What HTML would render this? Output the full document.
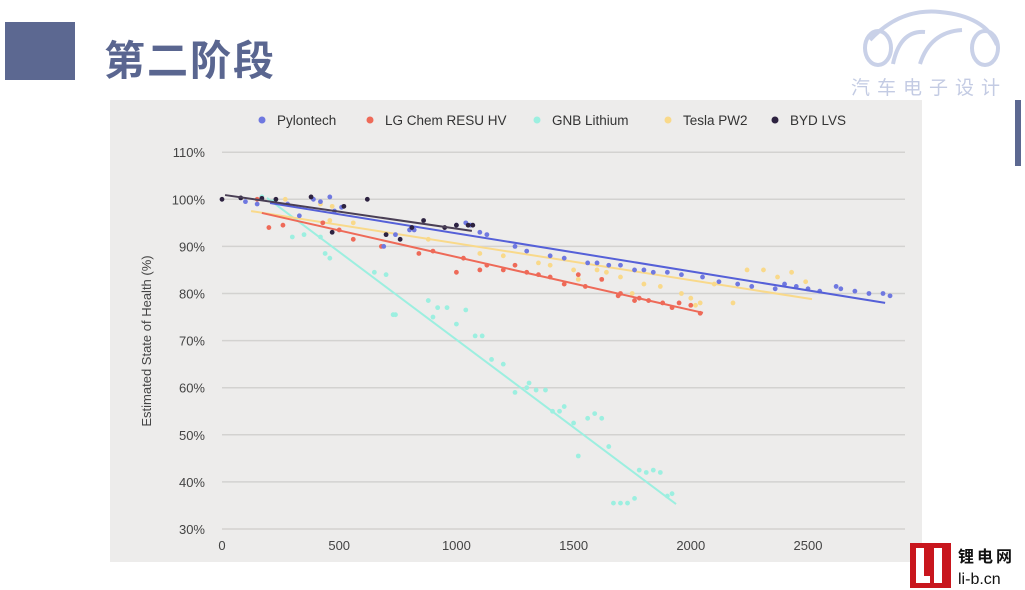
<!DOCTYPE html>
<html><head><meta charset="utf-8"><style>
html,body{margin:0;padding:0;background:#fff;width:1025px;height:590px;overflow:hidden;font-family:"Liberation Sans","Noto Sans CJK SC",sans-serif}
svg text{font-family:"Liberation Sans","Noto Sans CJK SC",sans-serif}
</style></head><body>
<svg id="root" width="1025" height="590" xmlns="http://www.w3.org/2000/svg">
<rect x="5" y="22" width="70" height="58" fill="#5c6891"/>
<text x="104" y="75" font-size="41" font-weight="bold" fill="#5a6690" letter-spacing="2">第二阶段</text>
<g fill="none" stroke="#c9d1e8" stroke-width="4">
<path d="M870 40 Q900 8 940 12 Q985 16 997 45"/>
<ellipse cx="878" cy="48" rx="13" ry="17"/>
<ellipse cx="985" cy="48" rx="13" ry="17"/>
<path d="M893 64 Q900 30 925 32 M920 64 Q930 32 962 30"/>
</g>
<text x="851" y="94" font-size="19" fill="#c3cbe3" letter-spacing="7">汽车电子设计</text>
<rect x="1015" y="100" width="6" height="66" fill="#5c6891"/>
<rect x="110" y="100" width="812" height="462" fill="#edeceb"/>
<g id="grid"></g>
<g id="yticks"></g>
<g id="xticks"></g>
<text transform="translate(151,341) rotate(-90)" text-anchor="middle" font-size="13" fill="#444">Estimated State of Health (%)</text>
<g id="legend"></g>
<g id="series"></g>
<g>
<rect x="910" y="543" width="41" height="45" fill="#c8161d"/>
<rect x="916" y="548" width="8" height="35" fill="#fff"/><rect x="916" y="576" width="14" height="7" fill="#fff"/>
<rect x="934" y="548" width="8" height="35" fill="#fff"/>
<text x="958" y="562" font-size="16" font-weight="bold" fill="#111" letter-spacing="3">锂电网</text>
<text x="958" y="584" font-size="16" fill="#111">li-b.cn</text>
</g>
</svg>
<script>
const yTicks=[30,40,50,60,70,80,90,100,110];
const xTicks=[0,500,1000,1500,2000,2500];
const seriesNames=["Pylontech","LG Chem RESU HV","GNB Lithium","Tesla PW2","BYD LVS"];
const seriesColors=["#6f78e0","#ee6a58","#9cefe0","#f9d98a","#2d2240"];
const pylonX=[100,150,280,330,390,420,460,480,510,690,740,800,820,1000,1040,1060,1100,1130,1250,1300,1400,1460,1560,1600,1650,1700,1760,1800,1840,1900,1960,2050,2120,2200,2260,2360,2400,2450,2500,2550,2620,2640,2700,2760,2820,2850];
const pylonY=[99.5,99,99,96.5,100,99.5,100.5,97.5,98.3,90,92.5,93.5,93.5,94.5,95,94.5,93,92.5,90,89,88,87.5,86.5,86.5,86,86,85,85,84.5,84.5,84,83.5,82.5,82,81.5,81,82,81.5,81,80.5,81.5,81,80.5,80,80,79.5];
const lgX=[150,200,260,430,500,560,680,840,900,1000,1030,1100,1130,1200,1250,1300,1350,1400,1460,1520,1550,1620,1690,1700,1760,1780,1820,1880,1920,1950,2000,2040];
const lgY=[100,94,94.5,95,93.5,91.5,90,88.5,89,84.5,87.5,85,86,85,86,84.5,84,83.5,82,84,81.5,83,79.5,80,78.5,79,78.5,78,77,78,77.5,75.8];
const gnbX=[170,220,300,350,420,440,460,650,700,730,740,880,900,920,960,1000,1040,1080,1110,1150,1200,1250,1300,1310,1340,1380,1410,1440,1460,1500,1520,1560,1590,1620,1650,1670,1700,1730,1760,1780,1810,1840,1870,1900,1920];
const gnbY=[100.5,99.5,92,92.5,92,88.5,87.5,84.5,84,75.5,75.5,78.5,75,77,77,73.5,76.5,71,71,66,65,59,60,61,59.5,59.5,55,55,56,52.5,45.5,53.5,54.5,53.5,47.5,35.5,35.5,35.5,36.5,42.5,42,42.5,42,37,37.5];
const teslaX=[270,420,460,470,560,880,1100,1200,1350,1400,1500,1520,1600,1640,1700,1750,1800,1870,1960,2000,2020,2040,2100,2180,2240,2310,2370,2430,2490];
const teslaY=[100,99,95.5,98.5,95,91.5,88.5,88,86.5,86,85,83,85,84.5,83.5,80,82,81.5,80,79,77.5,78,82,78,85,85,83.5,84.5,82.5];
const bydX=[0,80,170,230,380,470,520,620,700,760,810,860,950,1000,1050,1070];
const bydY=[100,100.3,100.2,100,100.5,93,98.5,100,92.5,91.5,94,95.5,94,94.5,94.5,94.5];
const trendX0=[205,170,192,124,13], trendY0=[99.2,97.1,100.3,97.5,100.9];
const trendX1=[2829,2052,1937,2517,1066], trendY1=[78,75.9,35.3,78.8,93.3];
const ptsX=[pylonX,lgX,gnbX,teslaX,bydX], ptsY=[pylonY,lgY,gnbY,teslaY,bydY];

const NS="http://www.w3.org/2000/svg";
const sx=v=>222+v*0.2344;
const sy=v=>529-(v-30)*4.71;
function mk(tag,attrs,parent){const e=document.createElementNS(NS,tag);for(const k in attrs)e.setAttribute(k,attrs[k]);parent.appendChild(e);return e;}
const grid=document.getElementById('grid'),yt=document.getElementById('yticks'),xt=document.getElementById('xticks');
yTicks.forEach(t=>{
 const l=mk('line',{x1:222,x2:905,y1:sy(t),y2:sy(t),stroke:'#d3d2d0','stroke-width':1.5},grid);
 
 
 const tx=mk('text',{x:205,y:sy(t)+5,'text-anchor':'end','font-size':13,fill:'#444'},yt);
 tx.textContent=t+'%';
 
 
});
xTicks.forEach(t=>{
 const tx=mk('text',{x:sx(t),y:550,'text-anchor':'middle','font-size':13,fill:'#444'},xt);
 tx.textContent=t;
 
 
});
const lg=document.getElementById('legend');
const legX=[262,370,537,668,775];
seriesNames.forEach((n,i)=>{
 const g=mk('g',{},lg);
 
 
 mk('circle',{cx:legX[i],cy:120,r:3.5,fill:seriesColors[i]},g);
 const t=mk('text',{x:legX[i]+15,y:125,'font-size':13.5,fill:'#333'},g);
 t.textContent=n;
});
const sg=document.getElementById('series');
[2,3,1,0,4].forEach(i=>{
 const g=mk('g',{},sg);
 
 
 ptsX[i].forEach((x,j)=>{
  const c=mk('circle',{cx:sx(x),cy:sy(ptsY[i][j]),r:2.4,fill:seriesColors[i]},g);
  
  
 });
 const l=mk('line',{x1:sx(trendX0[i]),y1:sy(trendY0[i]),x2:sx(trendX1[i]),y2:sy(trendY1[i]),stroke:i==4?'#4a3f55':(i==0?'#5560d8':seriesColors[i]),'stroke-width':2},g);
 
 
});
</script>
</body></html>
